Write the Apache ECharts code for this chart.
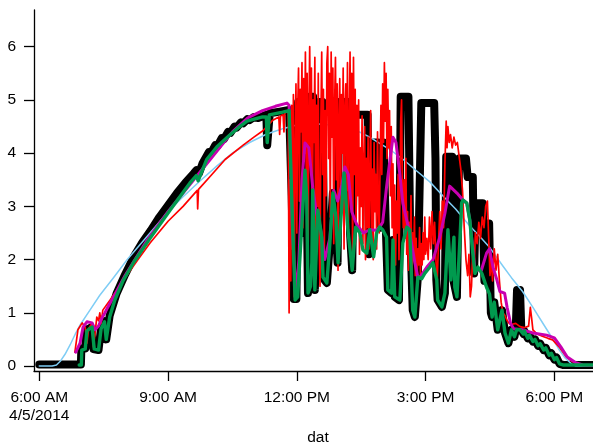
<!DOCTYPE html>
<html>
<head>
<meta charset="utf-8">
<script src="https://cdn.jsdelivr.net/npm/echarts@6/dist/echarts.min.js"></script>
<style>
  html, body { margin: 0; padding: 0; background: #fff; }
  #main { width: 593px; height: 443px; }
</style>
</head>
<body>
<div id="main"></div>
<script>
// time is in decimal hours of 4/5/2014
var tickHours = [6, 9, 12, 15, 18];
var tickLabels = ['6:00 AM\n4/5/2014', '9:00 AM', '12:00 PM', '3:00 PM', '6:00 PM'];
var yTicks = [0, 1, 2, 3, 4, 5, 6];

var blackTrace = [
  [6.0, 0.03], [6.97, 0.03], [6.98, 0.33], [7.07, 0.33], [7.1, 0.68], [7.2, 0.72], [7.26, 0.32],
  [7.38, 0.3], [7.44, 0.72], [7.52, 0.84], [7.56, 0.5], [7.6, 0.5], [7.64, 0.95], [7.8, 1.36],
  [8.0, 1.72], [8.2, 2.05], [8.4, 2.32], [8.6, 2.55], [8.8, 2.8], [9.0, 3.02], [9.2, 3.24],
  [9.4, 3.44], [9.6, 3.62], [9.66, 3.68], [9.72, 3.62], [9.8, 3.8], [9.95, 4.02], [10.0, 4.0],
  [10.1, 4.15], [10.15, 4.13], [10.25, 4.28], [10.3, 4.26], [10.4, 4.4], [10.45, 4.38], [10.55, 4.5],
  [10.6, 4.48], [10.7, 4.58], [10.75, 4.56], [10.85, 4.64], [10.9, 4.62], [11.0, 4.68], [11.1, 4.66],
  [11.29, 4.72], [11.31, 4.15], [11.35, 4.15], [11.37, 4.75], [11.6, 4.78], [11.82, 4.81],
  [11.88, 3.2], [11.93, 1.26], [11.99, 1.26], [12.03, 4.96], [12.1, 4.96], [12.14, 2.5], [12.19, 3.68],
  [12.23, 3.18], [12.26, 1.37], [12.29, 5.06], [12.38, 5.06], [12.42, 1.43], [12.47, 2.9], [12.52, 4.96],
  [12.6, 4.96], [12.64, 1.62], [12.7, 1.56], [12.77, 2.31], [12.84, 3.25], [12.9, 2.8], [12.95, 1.94],
  [12.98, 4.96], [13.2, 4.96], [13.24, 2.5], [13.29, 1.8], [13.34, 4.72], [13.65, 4.72], [13.68, 2.1],
  [13.73, 4.2], [13.9, 4.2], [13.95, 2.6], [14.02, 4.2], [14.08, 2.42], [14.12, 1.43], [14.21, 1.37],
  [14.24, 2.37], [14.28, 1.3], [14.38, 1.24], [14.42, 5.06], [14.6, 5.06], [14.64, 2.56], [14.7, 1.05],
  [14.75, 0.92], [14.82, 1.67], [14.9, 4.94], [15.2, 4.94], [15.23, 3.9], [15.25, 1.62],
  [15.28, 1.24], [15.38, 1.11], [15.45, 1.37], [15.48, 3.93], [15.62, 3.93], [15.65, 1.6], [15.73, 1.3],
  [15.78, 3.9], [15.94, 3.9], [15.98, 3.55], [16.1, 3.55], [16.13, 1.74], [16.17, 3.06], [16.33, 3.06],
  [16.37, 1.6], [16.41, 2.68], [16.48, 2.68], [16.52, 1.0], [16.55, 0.92], [16.6, 1.2], [16.68, 0.68],
  [16.78, 1.05], [16.85, 0.62], [16.93, 0.43], [17.0, 0.68], [17.07, 0.55], [17.1, 0.68], [17.13, 1.43],
  [17.2, 1.43], [17.23, 0.68], [17.28, 0.6], [17.3, 0.66], [17.38, 0.52], [17.42, 0.58], [17.5, 0.46],
  [17.55, 0.5], [17.62, 0.38], [17.67, 0.42], [17.75, 0.3], [17.8, 0.34], [17.88, 0.2], [17.93, 0.24],
  [18.0, 0.12], [18.05, 0.16], [18.12, 0.04], [18.2, 0.02], [18.9, 0.02]
];

var greenTrace = [
  [6.93, 0.02], [6.98, 0.02], [6.99, 0.3], [7.07, 0.32], [7.11, 0.66], [7.17, 0.7], [7.23, 0.73],
  [7.28, 0.32], [7.38, 0.3], [7.44, 0.7], [7.52, 0.83], [7.56, 0.5], [7.6, 0.48], [7.64, 0.92],
  [7.76, 1.24], [7.95, 1.6], [8.2, 1.95], [8.58, 2.4], [9.05, 2.93], [9.51, 3.44], [9.66, 3.58],
  [9.7, 3.48], [9.76, 3.6], [9.9, 3.88], [10.14, 4.12], [10.44, 4.34], [10.67, 4.5], [10.84, 4.6],
  [11.2, 4.68], [11.29, 4.68], [11.31, 4.2], [11.34, 4.2], [11.36, 4.72], [11.67, 4.77], [11.82, 4.8],
  [11.88, 3.18], [11.96, 1.24], [12.02, 1.3], [12.11, 2.56], [12.19, 3.68], [12.23, 3.18], [12.26, 1.37],
  [12.32, 1.5], [12.35, 1.94], [12.37, 3.31], [12.42, 1.43], [12.49, 2.93], [12.58, 2.42], [12.61, 1.67],
  [12.7, 1.56], [12.77, 2.31], [12.84, 3.25], [12.91, 2.8], [12.96, 1.94], [13.03, 2.8], [13.1, 3.63],
  [13.19, 2.56], [13.29, 1.8], [13.37, 2.61], [13.47, 2.5], [13.54, 2.18], [13.63, 2.12], [13.7, 2.56],
  [13.79, 2.05], [13.86, 2.5], [13.93, 2.61], [14.0, 2.56], [14.09, 2.42], [14.12, 1.43], [14.21, 1.37],
  [14.24, 2.37], [14.28, 1.3], [14.4, 1.24], [14.47, 2.31], [14.56, 2.61], [14.63, 2.56], [14.7, 1.05],
  [14.75, 0.92], [14.82, 1.67], [14.91, 1.64], [14.98, 1.74], [15.1, 1.86], [15.17, 1.94], [15.26, 1.62],
  [15.28, 1.24], [15.38, 1.11], [15.45, 1.37], [15.52, 2.56], [15.59, 1.62], [15.66, 2.42], [15.68, 1.48],
  [15.73, 1.3], [15.8, 2.37], [15.84, 3.06], [15.87, 3.12], [15.96, 3.06], [16.03, 2.74], [16.1, 2.12],
  [16.15, 1.74], [16.22, 1.86], [16.31, 1.74], [16.42, 1.48], [16.49, 1.35], [16.55, 0.92], [16.6, 1.2],
  [16.68, 0.68], [16.78, 1.05], [16.85, 0.62], [16.93, 0.43], [17.0, 0.68], [17.07, 0.55], [17.12, 0.68],
  [17.2, 0.68], [17.28, 0.6], [17.3, 0.66], [17.38, 0.52], [17.42, 0.58], [17.5, 0.46], [17.55, 0.5],
  [17.62, 0.38], [17.67, 0.42], [17.75, 0.3], [17.8, 0.34], [17.88, 0.2], [17.93, 0.24], [18.0, 0.12],
  [18.05, 0.16], [18.12, 0.04], [18.2, 0.02], [18.9, 0.02]
];

var redTrace = [
  [6.83, 0.26], [6.9, 0.68], [7.0, 0.81], [7.07, 0.73], [7.11, 0.43], [7.15, 0.7], [7.23, 0.81],
  [7.26, 0.36], [7.3, 0.62], [7.34, 0.92], [7.38, 0.85], [7.41, 1.0], [7.44, 0.8], [7.48, 1.05],
  [7.65, 1.24], [7.81, 1.43], [8.0, 1.66], [8.3, 2.0], [8.58, 2.31], [9.0, 2.72], [9.35, 3.0],
  [9.68, 3.3], [9.69, 2.95], [9.71, 3.32], [10.0, 3.58], [10.33, 3.88], [10.75, 4.15], [11.0, 4.3],
  [11.21, 4.42], [11.44, 4.62], [11.58, 4.68], [11.6, 4.35], [11.62, 4.7], [11.68, 4.72], [11.7, 4.4],
  [11.72, 4.75], [11.8, 4.8], [11.82, 1.0], [11.84, 3.5], [11.86, 1.6], [11.88, 4.9], [11.9, 2.2],
  [11.92, 5.1], [11.94, 1.3], [11.96, 4.0], [11.98, 5.3], [12.0, 2.5], [12.02, 4.8], [12.04, 5.6],
  [12.06, 3.1], [12.08, 5.2], [12.1, 4.4], [12.12, 5.7], [12.14, 2.6], [12.16, 5.4], [12.18, 4.0],
  [12.2, 5.9], [12.22, 3.4], [12.24, 5.5], [12.26, 1.6], [12.28, 4.7], [12.3, 6.0], [12.32, 3.8],
  [12.34, 5.6], [12.36, 2.2], [12.38, 5.0], [12.4, 4.2], [12.42, 5.8], [12.44, 1.9], [12.46, 4.9],
  [12.48, 3.0], [12.5, 5.5], [12.52, 2.4], [12.54, 1.5], [12.56, 4.6], [12.58, 5.9], [12.6, 3.6],
  [12.62, 5.2], [12.64, 2.0], [12.66, 4.8], [12.68, 3.2], [12.7, 5.7], [12.72, 6.0], [12.74, 3.9],
  [12.76, 5.5], [12.78, 2.8], [12.8, 5.9], [12.82, 4.3], [12.84, 5.6], [12.86, 2.3], [12.88, 4.9],
  [12.9, 5.8], [12.92, 3.5], [12.94, 5.3], [12.96, 1.8], [12.98, 4.6], [13.0, 5.4], [13.02, 2.9],
  [13.04, 5.1], [13.06, 4.0], [13.08, 5.6], [13.1, 2.2], [13.12, 4.8], [13.14, 5.3], [13.16, 3.3],
  [13.18, 5.7], [13.2, 2.4], [13.22, 4.4], [13.24, 5.9], [13.26, 3.0], [13.28, 5.5], [13.3, 1.9],
  [13.32, 5.8], [13.34, 3.6], [13.36, 5.2], [13.38, 2.7], [13.4, 4.9], [13.42, 3.2], [13.44, 5.0],
  [13.46, 2.1], [13.48, 4.1], [13.5, 3.0], [13.52, 4.7], [13.54, 2.3], [13.56, 3.8], [13.58, 4.5],
  [13.6, 2.0], [13.62, 3.9], [13.64, 2.6], [13.66, 4.3], [13.68, 2.2], [13.7, 3.5], [13.72, 4.8],
  [13.74, 2.4], [13.76, 3.7], [13.78, 2.0], [13.8, 4.2], [13.82, 2.9], [13.84, 3.6], [13.86, 2.2],
  [13.88, 4.4], [13.9, 3.0], [13.92, 2.5], [13.94, 3.8], [13.96, 4.9], [13.98, 3.6], [14.0, 5.3],
  [14.02, 4.2], [14.04, 5.7], [14.06, 4.6], [14.08, 5.5], [14.1, 3.9], [14.12, 5.2], [14.14, 4.1],
  [14.16, 4.8], [14.18, 3.2], [14.2, 4.5], [14.22, 2.6], [14.24, 3.8], [14.26, 2.2], [14.28, 3.4],
  [14.3, 1.9], [14.32, 3.1], [14.34, 2.5], [14.36, 3.6], [14.38, 2.0], [14.4, 3.0], [14.42, 4.6],
  [14.44, 5.0], [14.46, 3.3], [14.48, 2.6], [14.5, 3.5], [14.52, 2.4], [14.54, 3.9], [14.56, 2.1],
  [14.58, 2.9], [14.6, 1.8], [14.62, 2.7], [14.64, 2.2], [14.66, 3.2], [14.68, 1.6], [14.7, 2.5],
  [14.72, 2.0], [14.74, 2.8], [14.76, 1.7], [14.78, 2.4], [14.8, 1.5], [14.82, 2.2], [14.84, 1.9],
  [14.86, 2.6], [14.88, 1.7], [14.9, 2.3], [14.92, 1.9], [14.94, 2.5], [14.96, 2.0], [14.98, 2.8],
  [15.0, 2.1], [15.03, 2.4], [15.06, 2.0], [15.09, 2.8], [15.12, 2.2], [15.15, 2.9], [15.18, 2.3],
  [15.21, 2.7], [15.24, 2.0], [15.27, 1.6], [15.3, 2.3], [15.33, 2.9], [15.36, 2.2], [15.39, 3.1],
  [15.42, 2.6], [15.45, 3.8], [15.48, 4.6], [15.5, 4.1], [15.52, 4.5], [15.55, 4.2], [15.58, 4.35],
  [15.62, 4.1], [15.66, 4.3], [15.7, 4.15], [15.74, 4.2], [15.78, 3.95], [15.82, 3.7], [15.86, 3.3],
  [15.9, 2.6], [15.94, 2.0], [15.98, 1.7], [16.01, 2.1], [16.04, 1.3], [16.07, 1.5], [16.1, 2.2],
  [16.13, 1.8], [16.16, 2.5], [16.2, 2.3], [16.24, 2.7], [16.28, 2.4], [16.32, 2.8], [16.36, 2.6],
  [16.4, 3.0], [16.44, 3.1], [16.47, 2.4], [16.5, 1.7], [16.53, 2.0], [16.56, 1.6], [16.6, 2.2],
  [16.64, 1.8], [16.68, 2.1], [16.72, 1.6], [16.76, 1.2], [16.8, 1.0], [16.85, 0.95], [16.9, 0.85],
  [16.95, 0.8], [17.0, 0.78], [17.1, 0.8], [17.2, 0.74], [17.3, 0.72], [17.4, 0.75], [17.44, 1.1],
  [17.47, 0.9], [17.5, 0.68], [17.6, 0.6], [17.72, 0.56], [17.85, 0.52], [17.96, 0.49], [18.11, 0.36],
  [18.28, 0.17], [18.4, 0.09], [18.5, 0.05], [18.65, 0.02], [18.9, 0.01]
];

var magentaTrace = [
  [6.85, 0.26], [6.95, 0.43], [7.02, 0.73], [7.11, 0.83], [7.23, 0.81], [7.3, 0.68], [7.38, 0.75],
  [7.46, 0.9], [7.53, 1.0], [7.6, 1.11], [7.8, 1.4], [8.0, 1.7], [8.5, 2.35], [9.0, 2.9], [9.5, 3.4],
  [10.0, 3.9], [10.5, 4.4], [10.85, 4.66], [11.2, 4.8], [11.5, 4.88], [11.77, 4.94], [11.82, 4.9],
  [11.9, 2.5], [11.98, 1.35], [12.05, 2.0], [12.12, 3.5], [12.19, 4.19], [12.28, 4.1], [12.37, 3.36],
  [12.45, 2.9], [12.55, 2.6], [12.65, 2.0], [12.77, 2.4], [12.86, 3.3], [12.95, 3.1], [13.05, 3.4],
  [13.12, 3.74], [13.2, 3.6], [13.28, 2.9], [13.4, 2.65], [13.55, 2.5], [13.7, 2.56], [13.85, 2.55],
  [13.93, 2.61], [14.0, 2.7], [14.09, 3.36], [14.17, 3.87], [14.24, 4.3], [14.31, 4.2], [14.4, 3.6],
  [14.47, 3.06], [14.56, 2.74], [14.63, 2.5], [14.75, 1.94], [14.82, 1.67], [14.87, 1.67], [15.03, 1.86],
  [15.17, 1.99], [15.33, 2.42], [15.45, 2.87], [15.56, 3.38], [15.73, 3.25], [15.87, 3.12], [15.96, 3.06],
  [16.03, 2.74], [16.1, 2.2], [16.15, 1.8], [16.3, 1.8], [16.42, 2.12], [16.49, 2.2], [16.57, 1.86],
  [16.66, 1.62], [16.73, 1.4], [16.84, 1.37], [16.9, 1.1], [16.98, 0.8], [17.05, 0.7], [17.27, 0.68],
  [17.5, 0.62], [17.82, 0.58], [18.0, 0.53], [18.15, 0.36], [18.3, 0.17], [18.5, 0.06], [18.66, 0.02],
  [18.9, 0.01]
];

var blueTrace = [
  [6.0, 0], [6.3, 0], [6.4, 0.02], [6.5, 0.1], [6.6, 0.22], [6.72, 0.4], [6.85, 0.62], [6.95, 0.77],
  [7.18, 1.05], [7.41, 1.33], [7.72, 1.65], [8.05, 2.0], [8.58, 2.5], [9.0, 2.9], [9.35, 3.18],
  [9.75, 3.48], [10.14, 3.76], [10.5, 4.0], [10.9, 4.2], [11.3, 4.36], [11.67, 4.46], [12.0, 4.53],
  [12.31, 4.56], [12.77, 4.53], [13.1, 4.49], [13.4, 4.42], [13.7, 4.3], [13.94, 4.18], [14.2, 4.05],
  [14.48, 3.88], [14.8, 3.66], [15.1, 3.46], [15.4, 3.2], [15.7, 2.95], [16.0, 2.66], [16.3, 2.4],
  [16.5, 2.22], [16.8, 1.88], [17.0, 1.66], [17.26, 1.4], [17.5, 1.1], [17.75, 0.78], [17.93, 0.55],
  [18.1, 0.32], [18.25, 0.15], [18.4, 0.04], [18.5, 0], [18.9, 0]
];

var chart = echarts.init(document.getElementById('main'), null, { renderer: 'canvas' });

function trace(data, color, width, z) {
  return {
    type: 'line',
    data: data,
    showSymbol: false,
    symbol: 'none',
    z: z,
    lineStyle: { color: color, width: width, cap: 'round', join: 'round' }
  };
}

var font = 'Liberation Sans, Arial, sans-serif';

var option = {
  animation: false,
  backgroundColor: '#fff',
  grid: { left: 34, right: 0, top: 10, bottom: 72, containLabel: false, outerBoundsMode: 'none' },
  xAxis: {
    type: 'value',
    min: 5.877,
    max: 18.9,
    name: 'dat',
    nameLocation: 'middle',
    nameGap: 56,
    nameTextStyle: { color: '#000', fontFamily: font, fontSize: 15.5, padding: [0, 0, 0, 9] },
    axisLine: { onZero: false, lineStyle: { color: '#000', width: 1.3 } },
    axisTick: { customValues: tickHours, length: 10, lineStyle: { color: '#000', width: 1.3 } },
    axisLabel: {
      customValues: tickHours,
      margin: 18,
      color: '#000',
      fontFamily: font,
      fontSize: 15.5,
      lineHeight: 18,
      formatter: function (v) {
        var i = tickHours.indexOf(v);
        return i >= 0 ? tickLabels[i] : '';
      }
    },
    splitLine: { show: false }
  },
  yAxis: {
    type: 'value',
    min: -0.094,
    max: 6.69,
    axisLine: { show: true, onZero: false, lineStyle: { color: '#000', width: 1.3 } },
    axisTick: { show: true, customValues: yTicks, length: 10, lineStyle: { color: '#000', width: 1.3 } },
    axisLabel: { customValues: yTicks, margin: 18, color: '#000', fontFamily: font, fontSize: 15.5 },
    splitLine: { show: false }
  },
  series: [
    trace(blackTrace, '#000000', 8, 1),
    trace(blueTrace, '#7fcdf5', 1.5, 2),
    trace(redTrace, '#ff0000', 1.7, 3),
    trace(magentaTrace, '#c800b0', 3, 4),
    trace(greenTrace, '#009a4e', 3.4, 5)
  ]
};

chart.setOption(option);
</script>
</body>
</html>
